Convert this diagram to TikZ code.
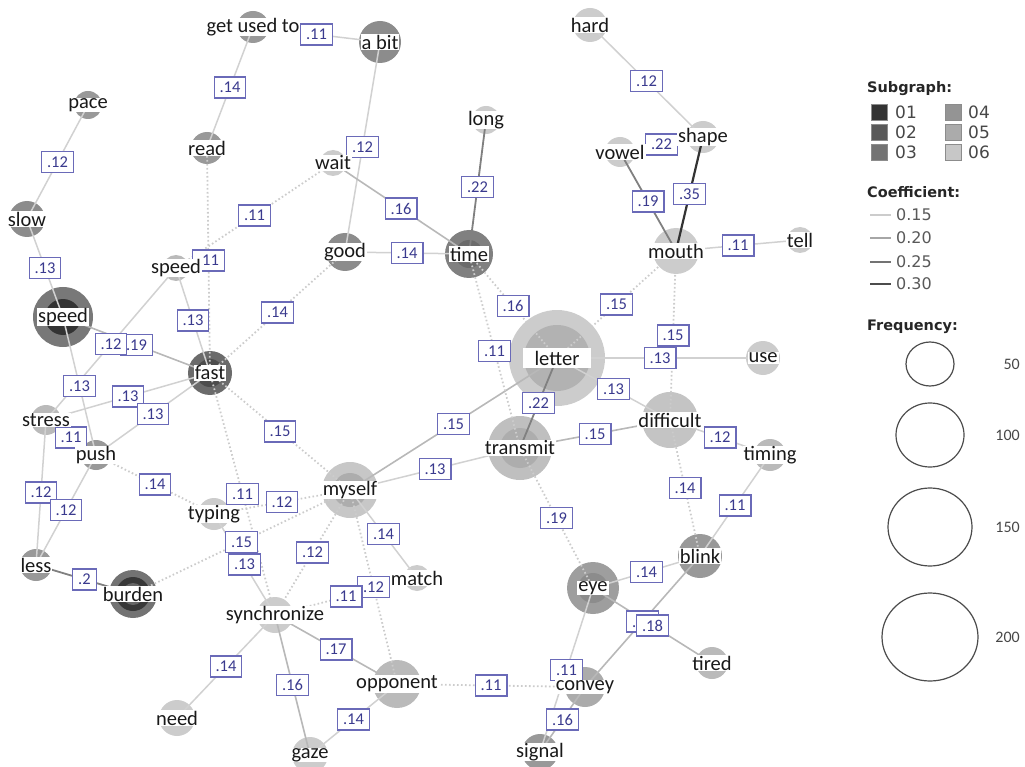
\documentclass[tikz,border=0pt]{standalone}
\usepackage{fontspec}
\setmainfont{Carlito}
\newfontfamily\legfont{DejaVu Sans}
\usetikzlibrary{shapes.geometric}
\pgfdeclarelayer{circl}
\pgfdeclarelayer{edgel}
\pgfdeclarelayer{textl}
\pgfsetlayers{circl,edgel,main,textl}
\definecolor{labblue}{HTML}{6A6AB8}
\definecolor{labtext}{HTML}{3A3A8E}
\tikzset{
  circ/.style={circle, inner sep=0pt, draw=none},
  wtext/.style={fill=white, inner xsep=1pt, inner ysep=0.5pt, text=black!90, font=\fontsize{20.5}{22}\selectfont},
  elab/.style={draw=labblue, fill=white, text=labtext, line width=1.1pt, inner xsep=5.5pt, inner ysep=0pt, minimum height=21pt, font=\fontsize{16.5}{17}\selectfont},
  e1/.style={draw=black!18, line width=1.5pt},
  e2/.style={draw=black!28, line width=1.6pt},
  e3/.style={draw=black!50, line width=1.8pt},
  e4/.style={draw=black!80, line width=2.2pt},
  dt/.style={draw=black!20, line width=1.8pt, dash pattern=on 1.6pt off 2.4pt},
  lhead/.style={anchor=west, inner sep=0pt, text=black!85, font=\legfont\bfseries\fontsize{14.5}{16}\selectfont},
  lnum/.style={anchor=west, inner sep=0pt, text=black!72, font=\legfont\fontsize{17}{18}\selectfont},
  lcoef/.style={anchor=west, inner sep=0pt, text=black!65, font=\legfont\fontsize{16}{17}\selectfont},
  lfreq/.style={anchor=east, inner sep=0pt, text=black!72, font=\fontsize{16}{17}\selectfont},
  sq/.style={minimum size=16pt, inner sep=0pt, draw=black!45, line width=0.8pt},
  fcirc/.style={ellipse, draw=black!70, line width=1.2pt, inner sep=0pt},
}
\newcommand\wn[6]{%
  \begin{pgfonlayer}{circl}\node[circ, minimum size={2*#4}, fill=#5] (c-#1) at (#2,#3) {};\end{pgfonlayer}
  \begin{pgfonlayer}{textl}\node[wtext] (t-#1) at (c-#1.center) {#6};\end{pgfonlayer}}
\newcommand\inn[3]{%
  \begin{pgfonlayer}{circl}\node[circ, minimum size={2*#2}, fill=#3] (i-#1-#2) at (c-#1.center) {};\end{pgfonlayer}}
\newcommand\ed[4]{%
  \begin{pgfonlayer}{edgel}\draw[#1] (c-#2.center) -- (c-#3.center);\end{pgfonlayer}
  \path (c-#2.center) -- node[elab] {#4} (c-#3.center);}
\begin{document}
\begin{tikzpicture}[x=1pt,y=-1pt]
\useasboundingbox (0,0) rectangle (1025,767);
% nodes
\wn{gut}{253}{27}{16}{black!40}{get used to}
\wn{abit}{380}{42}{21}{black!45}{a bit}
\wn{hard}{590}{25}{17}{black!20}{hard}
\wn{pace}{88}{105}{14}{black!40}{pace}
\wn{read}{207}{148}{16}{black!40}{read}
\wn{wait}{333}{163}{13}{black!20}{wait}
\wn{long}{486}{120}{14}{black!20}{long}
\wn{shape}{703}{137}{16}{black!20}{shape}
\wn{vowel}{620}{152}{15}{black!20}{vowel}
\wn{slow}{27}{219}{18}{black!45}{slow}
\wn{speedS}{176}{268}{13}{black!27}{speed}
\wn{good}{345}{252}{19}{black!45}{good}
\wn{time}{469}{254}{24}{black!50}{time}
\wn{mouth}{676}{251}{23}{black!20}{mouth}
\wn{tell}{800}{240}{13}{black!20}{tell}
\wn{speedB}{63}{317}{30}{black!53}{speed}
\wn{fast}{210}{373}{22}{black!58}{fast}
\wn{letter}{557}{358}{48}{black!20}{letter}
\wn{use}{763}{358}{17}{black!20}{use}
\wn{stress}{46}{420}{15}{black!27}{stress}
\wn{push}{96}{455}{15}{black!40}{push}
\wn{difficult}{670}{420}{28}{black!23}{difficult}
\wn{timing}{770}{455}{16}{black!27}{timing}
\wn{transmit}{520}{448}{32}{black!25}{transmit}
\wn{myself}{350}{490}{28}{black!22}{myself}
\wn{typing}{214}{514}{16}{black!20}{typing}
\wn{less}{36}{565}{16}{black!40}{less}
\wn{burden}{133}{594}{24}{black!55}{burden}
\wn{match}{417}{578}{13}{black!20}{match}
\wn{blink}{700}{556}{22}{black!40}{blink}
\wn{eye}{593}{588}{26}{black!38}{eye}
\wn{sync}{275}{615}{18}{black!20}{synchronize}
\wn{tired}{712}{663}{16}{black!27}{tired}
\wn{opponent}{397}{684}{24}{black!27}{opponent}
\wn{convey}{585}{687}{20}{black!33}{convey}
\wn{need}{177}{718}{18}{black!20}{need}
\wn{gaze}{310}{755}{18}{black!20}{gaze}
\wn{signal}{540}{752}{18}{black!40}{signal}
\inn{speedB}{18}{black!80}
\inn{fast}{14}{black!70}
\inn{burden}{17}{black!78}
\inn{burden}{11}{black!60}
\inn{letter}{33}{black!30}
\inn{transmit}{20}{black!32}
\inn{myself}{17}{black!32}
\inn{time}{14}{black!58}
\inn{eye}{15}{black!45}
% letter text band wider
\begin{pgfonlayer}{textl}\node[wtext, inner xsep=12pt, inner ysep=3pt] (t-letter2) at (c-letter.center) {letter};\end{pgfonlayer}
% edges
\ed{e1}{gut}{abit}{.11}
\ed{e1}{gut}{read}{.14}
\ed{e1}{pace}{slow}{.12}
\ed{e1}{slow}{speedB}{.13}
\ed{dt}{read}{fast}{.11}
\ed{dt}{wait}{speedS}{.11}
\ed{e1}{abit}{good}{.12}
\ed{e2}{wait}{time}{.16}
\ed{e1}{good}{time}{.14}
\ed{e3}{long}{time}{.22}
\ed{e1}{hard}{shape}{.12}
\ed{e3}{vowel}{shape}{.22}
\ed{e3}{vowel}{mouth}{.19}
\ed{e4}{shape}{mouth}{.35}
\ed{e1}{mouth}{tell}{.11}
\ed{dt}{mouth}{letter}{.15}
\ed{dt}{mouth}{difficult}{.15}
\ed{e1}{letter}{use}{.13}
\ed{e1}{letter}{difficult}{.13}
\ed{e3}{letter}{transmit}{.22}
\ed{e2}{letter}{myself}{.15}
\ed{dt}{time}{letter}{.16}
\ed{dt}{time}{transmit}{.11}
\ed{e1}{myself}{transmit}{.13}
\ed{e2}{transmit}{difficult}{.15}
\ed{dt}{transmit}{eye}{.19}
\ed{e1}{difficult}{timing}{.12}
\ed{dt}{difficult}{blink}{.14}
\ed{e1}{timing}{blink}{.11}
\ed{e1}{blink}{eye}{.14}
\ed{e2}{blink}{convey}{.16}
\ed{e2}{eye}{tired}{.18}
\ed{e1}{eye}{signal}{.11}
\ed{e2}{convey}{signal}{.16}
\ed{dt}{opponent}{convey}{.11}
\ed{e1}{opponent}{gaze}{.14}
\ed{e2}{sync}{gaze}{.16}
\ed{e2}{sync}{opponent}{.17}
\ed{e1}{sync}{need}{.14}
\ed{e1}{typing}{sync}{.13}
\ed{dt}{burden}{myself}{.15}
\ed{dt}{typing}{myself}{.12}
\ed{dt}{myself}{sync}{.12}
\ed{e1}{myself}{match}{.14}
\ed{dt}{myself}{opponent}{.12}
\ed{dt}{sync}{match}{.11}
\ed{dt}{push}{typing}{.14}
\ed{dt}{fast}{myself}{.15}
\ed{dt}{fast}{good}{.14}
\ed{dt}{fast}{sync}{.11}
\ed{e1}{speedS}{fast}{.13}
\ed{e2}{speedB}{fast}{.19}
\ed{e1}{speedS}{stress}{.12}
\ed{e1}{speedB}{push}{.13}
\ed{e1}{stress}{fast}{.13}
\ed{e1}{push}{fast}{.13}
\ed{e1}{stress}{push}{.11}
\ed{e1}{stress}{less}{.12}
\ed{e1}{push}{less}{.12}
\ed{e3}{less}{burden}{.2}
% legend
\node[lhead] (lg-sub) at (867,89) {Subgraph:};
\node[sq, fill=black!80] (sq01) at (879,112) {};
\node[sq, fill=black!65] (sq02) at (879,132) {};
\node[sq, fill=black!55] (sq03) at (879,152) {};
\node[sq, fill=black!42] (sq04) at (953,112) {};
\node[sq, fill=black!33] (sq05) at (953,132) {};
\node[sq, fill=black!22] (sq06) at (953,152) {};
\node[lnum] (tx01) at (895,112) {01};
\node[lnum] (tx02) at (895,132) {02};
\node[lnum] (tx03) at (895,152) {03};
\node[lnum] (tx04) at (968,112) {04};
\node[lnum] (tx05) at (968,132) {05};
\node[lnum] (tx06) at (968,152) {06};
\node[lhead] (lg-coef) at (867,192) {Coefficient:};
\coordinate (cl1a) at (870,215); \coordinate (cl1b) at (891,215);
\coordinate (cl2a) at (870,238); \coordinate (cl2b) at (891,238);
\coordinate (cl3a) at (870,262); \coordinate (cl3b) at (891,262);
\coordinate (cl4a) at (870,284); \coordinate (cl4b) at (891,284);
\draw[line width=2pt, black!20] (cl1a) -- (cl1b);
\draw[line width=2pt, black!35] (cl2a) -- (cl2b);
\draw[line width=2pt, black!55] (cl3a) -- (cl3b);
\draw[line width=2pt, black!70] (cl4a) -- (cl4b);
\node[lcoef] (tc1) at (896,215) {0.15};
\node[lcoef] (tc2) at (896,238) {0.20};
\node[lcoef] (tc3) at (896,262) {0.25};
\node[lcoef] (tc4) at (896,284) {0.30};
\node[lhead] (lg-freq) at (867,327) {Frequency:};
\node[fcirc, minimum width=48pt, minimum height=44pt] (f50) at (930,364) {};
\node[fcirc, minimum width=68pt, minimum height=64pt] (f100) at (930,435) {};
\node[fcirc, minimum width=84pt, minimum height=78pt] (f150) at (930,527) {};
\node[fcirc, minimum width=96pt, minimum height=88pt] (f200) at (930,637) {};
\node[lfreq] (tf50) at (1020,364) {50};
\node[lfreq] (tf100) at (1020,435) {100};
\node[lfreq] (tf150) at (1020,527) {150};
\node[lfreq] (tf200) at (1020,637) {200};
\end{tikzpicture}
\end{document}
